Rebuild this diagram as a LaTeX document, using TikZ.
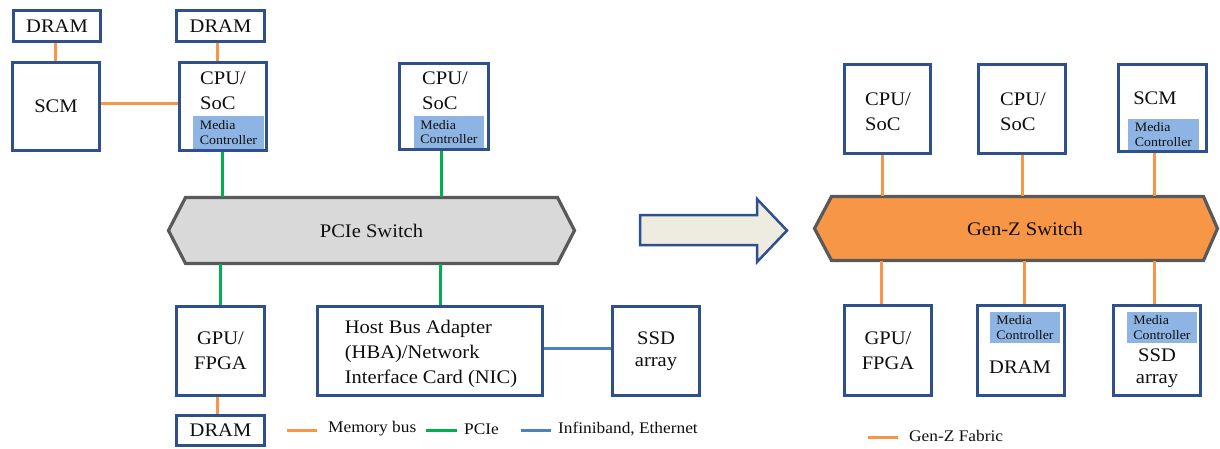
\documentclass[tikz,border=0pt]{standalone}
\usepackage{fontspec}
\setmainfont{Liberation Serif}[FakeStretch=1.07]
\usetikzlibrary{backgrounds}

\definecolor{boxblue}{RGB}{46,80,140}
\definecolor{mcblue}{RGB}{142,180,227}
\definecolor{busorange}{RGB}{247,150,70}
\definecolor{pciegreen}{RGB}{0,176,80}
\definecolor{ibblue}{RGB}{79,129,189}
\definecolor{switchgray}{RGB}{217,217,217}
\definecolor{switchedge}{RGB}{89,89,89}
\definecolor{arrowfill}{RGB}{238,236,225}
\definecolor{ink}{RGB}{15,15,15}

\newcommand{\mainsz}{\fontsize{19.2}{25}\selectfont}
\newcommand{\ssdsz}{\fontsize{19.2}{22}\selectfont}
\newcommand{\mcsz}{\fontsize{13}{14.5}\selectfont}
\newcommand{\legsz}{\fontsize{16.2}{19}\selectfont}

\tikzset{
  hwbox/.style={draw=boxblue, line width=3pt, fill=white, inner sep=0pt,
                align=center, font=\mainsz, text=ink},
  hwtext/.style={inner sep=0pt, align=left, font=\mainsz, text=ink},
  mctrl/.style={fill=mcblue, inner sep=0pt, align=left, font=\mcsz, text=ink},
  swlabel/.style={inner sep=0pt, outer sep=0pt, font=\mainsz, text=ink},
  swshape/.style={line width=3.2pt, draw=switchedge, line join=miter},
  membus/.style={draw=busorange, line width=3pt},
  pciebus/.style={draw=pciegreen, line width=3pt},
  netbus/.style={draw=ibblue, line width=3pt},
  legtext/.style={inner sep=0pt, anchor=west, font=\legsz, text=ink},
}

\begin{document}
\begin{tikzpicture}[x=1pt, y=-1pt]
\useasboundingbox (0,0) rectangle (1220,449);

% ---------------- PCIe based system ----------------
\node[hwbox, minimum width=87, minimum height=31] (dramA) at (57,26) {DRAM};
\node[hwbox, minimum width=87, minimum height=88] (scmA) at (56,106.5) {SCM};
\node[hwbox, minimum width=88, minimum height=31] (dramB) at (220.5,26) {DRAM};
\node[hwbox, minimum width=87, minimum height=88] (cpuA) at (223,106.5) {};
\node[hwtext] (cpuAt) at (223,91) {CPU/\\SoC};
\node[mctrl, minimum width=71, minimum height=33] (mcA) at (228.5,132.5) {Media\\Controller};

\node[hwbox, minimum width=89, minimum height=86] (cpuB) at (444,106.5) {};
\node[hwtext] (cpuBt) at (445,91) {CPU/\\SoC};
\node[mctrl, minimum width=70, minimum height=32] (mcB) at (449,132) {Media\\Controller};

\node[swlabel, minimum width=372, minimum height=66] (pcieSw) at (371.5,230.5) {PCIe Switch};

\node[hwbox, minimum width=88, minimum height=89] (gpuA) at (220.5,351) {GPU/\\FPGA};
\node[hwbox, minimum width=88, minimum height=30] (dramC) at (220.5,430.5) {DRAM};
\node[hwbox, minimum width=225, minimum height=89] (hba) at (430,351) {};
\node[hwtext] (hbat) at (431,354)
  {Host Bus Adapter\\(HBA)/Network\\Interface Card (NIC)};
\node[hwbox, minimum width=87, minimum height=89, font=\ssdsz] (ssdA) at (656,351) {SSD\\array};

% ---------------- Gen-Z based system ----------------
\node[hwbox, minimum width=86, minimum height=89] (cpuC) at (887.5,109) {};
\node[hwtext] (cpuCt) at (888,112) {CPU/\\SoC};
\node[hwbox, minimum width=87, minimum height=89] (cpuD) at (1022,109) {};
\node[hwtext] (cpuDt) at (1023,112) {CPU/\\SoC};
\node[hwbox, minimum width=88, minimum height=87] (scmB) at (1162.5,108) {};
\node[hwtext] (scmBt) at (1155,98) {SCM};
\node[mctrl, minimum width=71, minimum height=31] (mcC) at (1163.5,134.5) {Media\\Controller};

\node[swlabel, minimum width=372, minimum height=64] (genzSw) at (1017.5,228.5) {\hspace*{15pt}Gen-Z Switch};

\node[hwbox, minimum width=87, minimum height=90] (gpuB) at (888,350.5) {GPU/\\FPGA};
\node[hwbox, minimum width=87, minimum height=90] (dramD) at (1021,350.5) {};
\node[mctrl, minimum width=70, minimum height=31] (mcD) at (1025,327.5) {Media\\Controller};
\node[hwtext] (dramDt) at (1020,367) {DRAM};
\node[hwbox, minimum width=87, minimum height=90] (ssdB) at (1157,350.5) {};
\node[mctrl, minimum width=70, minimum height=31] (mcE) at (1162,327.5) {Media\\Controller};
\node[hwtext, align=center, font=\ssdsz] (ssdBt) at (1157,368) {SSD\\array};

% switch outlines behind their labels
\begin{scope}[on background layer]
  \draw[swshape, fill=switchgray]
    (pcieSw.north west) -- (pcieSw.north east) -- ([xshift=17pt]pcieSw.east)
    -- (pcieSw.south east) -- (pcieSw.south west) -- ([xshift=-17pt]pcieSw.west) -- cycle;
  \draw[swshape, fill=busorange]
    (genzSw.north west) -- (genzSw.north east) -- ([xshift=14pt]genzSw.east)
    -- (genzSw.south east) -- (genzSw.south west) -- ([xshift=-17pt]genzSw.west) -- cycle;
\end{scope}

% transition arrow
\draw[line width=2.5pt, draw=boxblue, fill=arrowfill, line join=miter]
  (640,215) -- (757,215) -- (757,199) -- (787,230.5) -- (757,262) -- (757,245) -- (640,245) -- cycle;

% ---------------- links, PCIe side ----------------
\draw[membus] ([xshift=-2pt]dramA.south) -- ([xshift=-2pt]dramA.south |- scmA.north);
\draw[membus] ([xshift=-3.5pt]dramB.south) -- ([xshift=-3.5pt]dramB.south |- cpuA.north);
\draw[membus] ([yshift=2.5pt]scmA.east) -- ([yshift=2.5pt]scmA.east -| cpuA.west);
\draw[pciebus] ([xshift=-1pt]cpuA.south) -- ([xshift=-1pt]cpuA.south |- pcieSw.north);
\draw[pciebus] ([xshift=-3pt]cpuB.south) -- ([xshift=-3pt]cpuB.south |- pcieSw.north);
\draw[pciebus] ([xshift=-0.5pt]gpuA.north) -- ([xshift=-0.5pt]gpuA.north |- pcieSw.south);
\draw[pciebus] ([xshift=10pt]hba.north) -- ([xshift=10pt]hba.north |- pcieSw.south);
\draw[membus] ([xshift=-3.5pt]gpuA.south) -- ([xshift=-3.5pt]gpuA.south |- dramC.north);
\draw[netbus] ([yshift=3pt]hba.east) -- ([yshift=3pt]hba.east -| ssdA.west);

% ---------------- links, Gen-Z side ----------------
\draw[membus] ([xshift=-5.5pt]cpuC.south) -- ([xshift=-5.5pt]cpuC.south |- genzSw.north);
\draw[membus] (cpuD.south) -- (cpuD.south |- genzSw.north);
\draw[membus] ([xshift=-8.5pt]scmB.south) -- ([xshift=-8.5pt]scmB.south |- genzSw.north);
\draw[membus] ([xshift=-7pt]gpuB.north) -- ([xshift=-7pt]gpuB.north |- genzSw.south);
\draw[membus] ([xshift=3pt]dramD.north) -- ([xshift=3pt]dramD.north |- genzSw.south);
\draw[membus] ([xshift=-3pt]ssdB.north) -- ([xshift=-3pt]ssdB.north |- genzSw.south);

% ---------------- legends ----------------
\node[legtext] (lgMem) at (328,429) {Memory bus};
\node[legtext] (lgPcie) at (464,429) {PCIe};
\node[legtext] (lgNet) at (558,429) {Infiniband, Ethernet};
\node[legtext] (lgGenz) at (909,436) {Gen-Z Fabric};
\draw[membus] (287,430) -- (317,430);
\draw[pciebus] (426,430) -- (457,430);
\draw[netbus] (521,430) -- (551,430);
\draw[membus] (868,437) -- (898,437);
\end{tikzpicture}
\end{document}
